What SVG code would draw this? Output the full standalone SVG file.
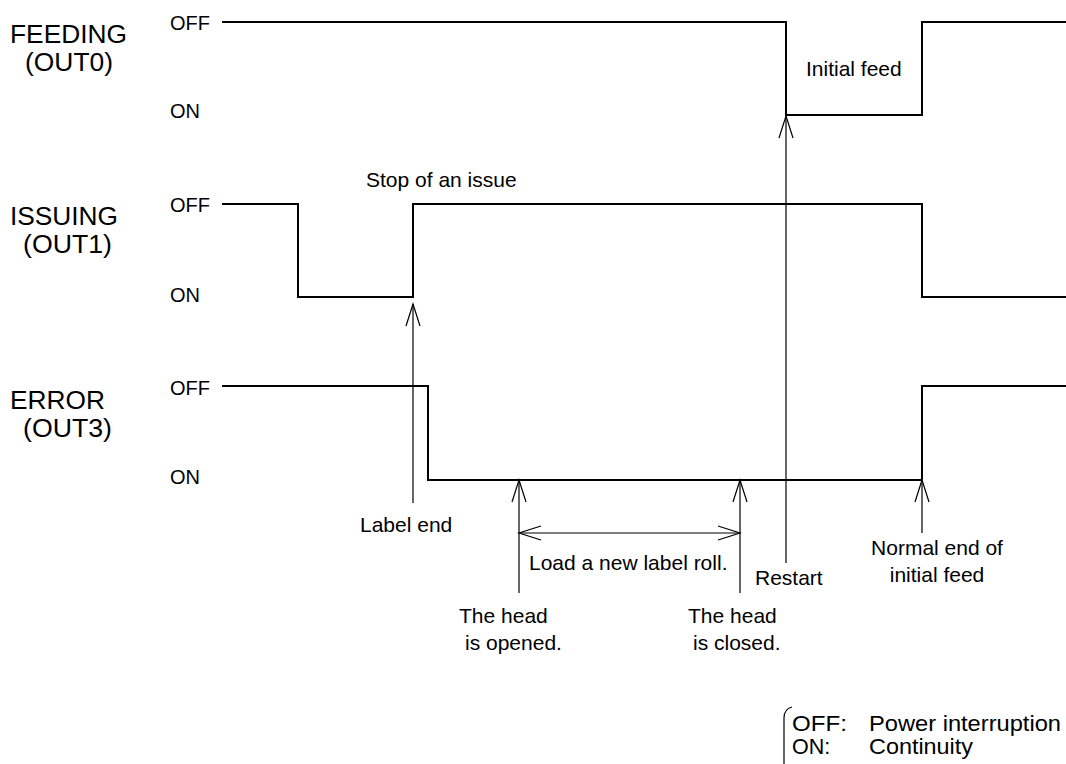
<svg xmlns="http://www.w3.org/2000/svg" width="1066" height="764" viewBox="0 0 1066 764">
<style>
text{font-family:"Liberation Sans",Arial,sans-serif;fill:#000}
.big{font-size:25px}
.lvl{font-size:20px}
.lab{font-size:21px}
.leg{font-size:21.5px}
.wave{fill:none;stroke:#000;stroke-width:2}
.arr{fill:none;stroke:#000;stroke-width:1.2}
</style>
<defs>
<marker id="ah" viewBox="-24 -9 26 18" markerWidth="26" markerHeight="18" refX="0" refY="0" orient="auto-start-reverse" markerUnits="userSpaceOnUse">
<path d="M-22,-7 L0,0 L-22,7" fill="none" stroke="#000" stroke-width="1.2"/>
</marker>
</defs>
<rect width="1066" height="764" fill="#fff"/>
<g id="feeding">
<text class="big" x="10" y="43" textLength="117" lengthAdjust="spacingAndGlyphs">FEEDING</text>
<text class="big" x="25" y="71" textLength="88" lengthAdjust="spacingAndGlyphs">(OUT0)</text>
<text class="lvl" x="170" y="30">OFF</text>
<text class="lvl" x="170" y="118">ON</text>
<polyline class="wave" points="222,22 786,22 786,115 922,115 922,22 1066,22"/>
<text class="lab" x="806" y="76">Initial feed</text>
</g>
<g id="issuing">
<text class="big" x="10" y="225" textLength="108" lengthAdjust="spacingAndGlyphs">ISSUING</text>
<text class="big" x="23" y="253" textLength="89" lengthAdjust="spacingAndGlyphs">(OUT1)</text>
<text class="lvl" x="170" y="212">OFF</text>
<text class="lvl" x="170" y="302">ON</text>
<polyline class="wave" points="222,204 298,204 298,297 413,297 413,204 922,204 922,297 1066,297"/>
<text class="lab" x="366" y="187">Stop of an issue</text>
</g>
<g id="error">
<text class="big" x="10" y="409" textLength="95" lengthAdjust="spacingAndGlyphs">ERROR</text>
<text class="big" x="23" y="437" textLength="89" lengthAdjust="spacingAndGlyphs">(OUT3)</text>
<text class="lvl" x="170" y="395">OFF</text>
<text class="lvl" x="170" y="484">ON</text>
<polyline class="wave" points="222,386 428,386 428,480 922,480 922,386 1066,386"/>
</g>
<g id="connectors">
<line class="arr" x1="413" y1="503" x2="413" y2="304" marker-end="url(#ah)"/>
<line class="arr" x1="519" y1="593" x2="519" y2="480" marker-end="url(#ah)"/>
<line class="arr" x1="740" y1="593" x2="740" y2="480" marker-end="url(#ah)"/>
<line class="arr" x1="519" y1="533" x2="740" y2="533" marker-start="url(#ah)" marker-end="url(#ah)"/>
<line class="arr" x1="786" y1="563" x2="786" y2="116" marker-end="url(#ah)"/>
<line class="arr" x1="922" y1="533" x2="922" y2="480" marker-end="url(#ah)"/>
</g>
<g id="annotations">
<text class="lab" x="360" y="532">Label end</text>
<text class="lab" x="529" y="570">Load a new label roll.</text>
<text class="lab" x="755" y="585">Restart</text>
<text class="lab" x="459" y="623">The head</text>
<text class="lab" x="465" y="650">is opened.</text>
<text class="lab" x="688" y="623">The head</text>
<text class="lab" x="693" y="650">is closed.</text>
<text class="lab" x="937" y="555" text-anchor="middle">Normal end of</text>
<text class="lab" x="937" y="582" text-anchor="middle">initial feed</text>
</g>
<g id="legend">
<path d="M792,707 Q784,709 784,718 L784,764" fill="none" stroke="#000" stroke-width="1.2"/>
<text class="leg" x="792" y="731" textLength="55" lengthAdjust="spacingAndGlyphs">OFF:</text>
<text class="leg" x="869" y="731" textLength="192" lengthAdjust="spacingAndGlyphs">Power interruption</text>
<text class="leg" x="792" y="754">ON:</text>
<text class="leg" x="869" y="754" textLength="104" lengthAdjust="spacingAndGlyphs">Continuity</text>
</g>
</svg>
